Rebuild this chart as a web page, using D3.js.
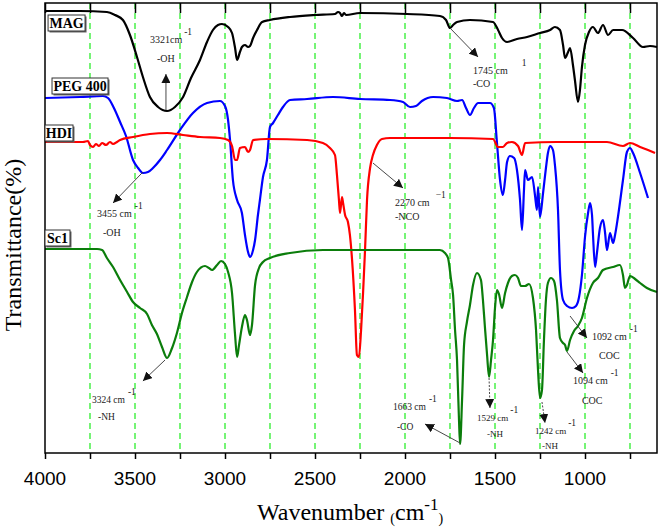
<!DOCTYPE html>
<html>
<head>
<meta charset="utf-8">
<script src="https://cdn.jsdelivr.net/npm/d3@7/dist/d3.min.js"></script>
<style>
  body { margin: 0; background: #fff; }
  svg { display: block; }
</style>
</head>
<body>
<div id="chart"></div>
<script>
// FTIR spectra, [wavenumber cm-1, transmittance (arbitrary offset units)]
const MAG = [[4000,442],[3806,442],[3656,441],[3611,438],[3567,433],[3528,418],[3489,396],[3456,376],[3417,356],[3372,346],[3322,342],[3278,346],[3233,356],[3189,375],[3139,393],[3100,411],[3067,423],[3039,428],[3017,429],[2983,426],[2961,420],[2944,405],[2933,393],[2917,401],[2906,406],[2889,408],[2872,406],[2861,407],[2844,415],[2822,423],[2794,431],[2750,433],[2639,436],[2500,438],[2389,439],[2372,441],[2361,440],[2350,437],[2339,440],[2328,438],[2250,440],[1989,439],[1806,437],[1772,433],[1750,425],[1733,428],[1711,431],[1639,433],[1511,431],[1483,423],[1461,415],[1433,411],[1378,414],[1322,416],[1250,420],[1194,423],[1167,426],[1139,423],[1122,408],[1111,395],[1094,401],[1083,405],[1067,388],[1056,373],[1039,351],[1028,363],[1017,386],[1000,408],[978,421],[956,426],[928,420],[900,428],[872,418],[844,423],[794,423],[733,415],[678,406],[639,407],[600,406]];

const PEG400 = [[4000,355],[3806,356],[3678,357],[3650,355],[3617,345],[3583,331],[3550,317],[3511,293],[3483,285],[3456,280],[3428,281],[3400,285],[3361,293],[3322,303],[3250,323],[3178,340],[3100,350],[3028,352],[3000,347],[2983,333],[2972,313],[2956,273],[2933,253],[2906,240],[2889,218],[2872,201],[2861,196],[2844,203],[2833,213],[2817,238],[2806,253],[2789,276],[2767,293],[2750,326],[2733,330],[2706,338],[2678,346],[2639,353],[2544,354],[2400,356],[2250,354],[2083,353],[2011,351],[1972,346],[1939,347],[1906,352],[1844,356],[1767,355],[1711,352],[1683,353],[1661,345],[1639,338],[1617,345],[1594,350],[1528,350],[1506,345],[1489,310],[1472,273],[1456,258],[1444,273],[1433,291],[1417,297],[1394,295],[1378,283],[1361,253],[1350,223],[1339,263],[1333,283],[1317,273],[1294,276],[1278,258],[1267,243],[1261,266],[1250,236],[1233,260],[1217,285],[1206,300],[1194,307],[1178,303],[1167,288],[1150,243],[1139,183],[1122,153],[1100,147],[1072,145],[1050,147],[1033,156],[1017,178],[1000,216],[983,240],[972,250],[961,238],[956,220],[944,186],[933,201],[917,225],[900,233],[889,221],[878,203],[861,220],[844,210],[833,218],[817,236],[789,273],[767,301],[750,305],[733,300],[694,280],[650,255]];

const HDI = [[4000,311],[3789,311],[3761,312],[3750,308],[3733,306],[3717,309],[3700,307],[3683,310],[3661,308],[3639,311],[3622,309],[3600,311],[3583,313],[3511,316],[3417,319],[3322,320],[3233,318],[3139,316],[3028,315],[2983,313],[2961,307],[2944,293],[2933,293],[2917,305],[2889,306],[2872,301],[2861,303],[2844,313],[2767,314],[2544,313],[2456,310],[2417,305],[2389,298],[2378,278],[2367,253],[2361,240],[2350,256],[2344,250],[2333,238],[2317,231],[2306,218],[2294,193],[2278,143],[2267,98],[2256,96],[2244,123],[2233,160],[2222,203],[2211,253],[2194,285],[2178,298],[2156,308],[2128,314],[2083,315],[1750,315],[1511,314],[1483,306],[1456,306],[1433,310],[1406,311],[1372,307],[1350,298],[1333,310],[1156,311],[878,311],[789,307],[750,310],[694,306],[650,303],[611,300]];

const SC1 = [[4000,204],[3711,204],[3683,203],[3656,195],[3622,186],[3583,173],[3544,161],[3511,151],[3472,145],[3433,139],[3406,128],[3378,119],[3350,106],[3322,95],[3294,105],[3267,120],[3239,140],[3211,156],[3183,171],[3156,181],[3111,187],[3089,185],[3072,183],[3044,188],[3022,192],[3000,189],[2983,181],[2961,160],[2944,118],[2933,96],[2922,108],[2906,126],[2889,138],[2878,133],[2861,118],[2850,128],[2833,168],[2811,185],[2789,191],[2750,195],[2639,200],[2456,203],[2178,203],[1806,203],[1778,200],[1761,195],[1744,173],[1733,158],[1722,123],[1711,93],[1700,33],[1694,9],[1683,53],[1672,108],[1656,131],[1639,148],[1622,168],[1600,180],[1578,173],[1567,153],[1556,126],[1544,98],[1533,76],[1522,93],[1511,113],[1500,145],[1489,163],[1478,159],[1461,145],[1444,160],[1428,170],[1406,177],[1389,178],[1372,175],[1356,167],[1333,167],[1311,169],[1289,155],[1272,123],[1261,83],[1250,55],[1239,63],[1228,113],[1217,153],[1206,170],[1189,175],[1172,172],[1156,153],[1139,115],[1122,110],[1111,108],[1100,102],[1083,113],[1061,122],[1039,127],[1017,135],[989,155],[956,170],[928,175],[900,183],[844,186],[806,188],[789,178],[778,165],[767,168],[750,177],[722,174],[694,170],[656,165],[600,161]];

const seriesNames = ['MAG', 'PEG 400', 'HDI', 'Sc1'];
const seriesData = [MAG, PEG400, HDI, SC1];
const seriesColors = ['#000000', '#0000ff', '#ff0000', '#0b7d0b'];

const xTicks = [4000, 3500, 3000, 2500, 2000, 1500, 1000];
const gridLines = [3750, 3500, 3250, 3000, 2750, 2500, 2250, 2000, 1750, 1500, 1250, 1000, 750];

// peak annotations: number, group, peak point, arrow tip, text anchor (all in data units)
const peakNums = ['3321', '1745', '3455', '2270', '3324', '1663', '1529', '1242', '1094', '1092'];
const peakGroups = ['-OH', '-CO', '-OH', '-NCO', '-NH', '-CO', '-NH', '-NH', 'COC', 'COC'];
const peakFrom = [[3328,343],[1750,425],[3456,281],[2178,290],[3333,93],[1694,10],[1533,75],[1239,51],[1100,101],[1083,137]];
const peakTo = [[3328,379],[1594,396],[3622,250],[2011,265],[3456,72],[1889,29],[1528,45],[1222,30],[1011,80],[989,115]];
const peakText = [[3417,410],[1622,379],[3711,236],[2056,247],[3739,50],[2067,43],[1600,32],[1278,19],[1067,69],[961,113]];

const W = 661, H = 527;
const margin = { top: 3, right: 4, bottom: 74, left: 45 };
const innerW = W - margin.left - margin.right;
const innerH = H - margin.top - margin.bottom;

const svg = d3.select('#chart').append('svg')
    .attr('width', W)
    .attr('height', H);

const chart = svg.append('g')
    .attr('transform', `translate(${margin.left}, ${margin.top})`);

const x = d3.scaleLinear().domain([4000, 600]).range([0, innerW]);
const y = d3.scaleLinear().domain([0, 450]).range([innerH, 0]);

// green dashed reference lines
chart.append('g').selectAll('line')
    .data(gridLines)
    .join('line')
    .attr('x1', d => x(d)).attr('x2', d => x(d))
    .attr('y1', 0).attr('y2', innerH)
    .attr('stroke', '#3cf03c')
    .attr('stroke-width', 1.4)
    .attr('stroke-dasharray', '6,4');

// spectra
const line = d3.line()
    .curve(d3.curveMonotoneX)
    .x(d => x(d[0]))
    .y(d => y(d[1]));

chart.append('g').selectAll('path')
    .data(seriesData)
    .join('path')
    .attr('fill', 'none')
    .attr('stroke', (d, i) => seriesColors[i])
    .attr('stroke-width', 2.2)
    .attr('stroke-linejoin', 'round')
    .attr('d', line);

// axes
const minorTicks = d3.range(4000, 599, -250);
chart.append('g')
    .attr('transform', `translate(0, ${innerH})`)
    .call(d3.axisBottom(x).tickValues(minorTicks).tickSize(6).tickFormat(''))
    .call(g => g.select('.domain').remove())
    .call(g => g.selectAll('line').attr('stroke-width', 1.5));

chart.append('g')
    .call(d3.axisTop(x).tickValues(minorTicks).tickSize(-10).tickFormat(''))
    .call(g => g.select('.domain').remove())
    .call(g => g.selectAll('line').attr('stroke-width', 1.5));

chart.append('g').selectAll('text')
    .data(xTicks)
    .join('text')
    .attr('x', d => x(d))
    .attr('y', innerH + 32)
    .attr('text-anchor', 'middle')
    .attr('font-family', '"Liberation Sans", Arial, sans-serif')
    .attr('font-size', 19)
    .text(d => d);

chart.append('rect')
    .attr('width', innerW).attr('height', innerH)
    .attr('fill', 'none')
    .attr('stroke', '#000')
    .attr('stroke-width', 1.5);

// series labels in boxes
const boxPos = [[3983,438,37],[3961,375,56],[4000,328,28],[4000,223,25]];
const boxes = chart.append('g').selectAll('g')
    .data(seriesNames)
    .join('g')
    .attr('transform', (d, i) => `translate(${x(boxPos[i][0])}, ${y(boxPos[i][1])})`);
boxes.append('rect')
    .attr('x', 1.5).attr('y', 1.5)
    .attr('width', (d, i) => boxPos[i][2]).attr('height', 16)
    .attr('fill', '#666');
boxes.append('rect')
    .attr('width', (d, i) => boxPos[i][2]).attr('height', 16)
    .attr('fill', '#fff')
    .attr('stroke', '#333')
    .attr('stroke-width', 1);
boxes.append('text')
    .attr('x', (d, i) => boxPos[i][2] / 2)
    .attr('y', 13)
    .attr('text-anchor', 'middle')
    .attr('font-family', '"Liberation Serif", "Times New Roman", serif')
    .attr('font-weight', 'bold')
    .attr('font-size', 14)
    .text(d => d);

// annotations
const defs = svg.append('defs');
defs.append('marker')
    .attr('id', 'arrow')
    .attr('viewBox', '0 0 10 10')
    .attr('refX', 10).attr('refY', 5)
    .attr('markerWidth', 9).attr('markerHeight', 9)
    .attr('markerUnits', 'userSpaceOnUse')
    .attr('orient', 'auto')
    .append('path')
    .attr('d', 'M0,0 L10,5 L0,10 Z')
    .attr('fill', '#111');

const supDx = [2, 14, 3, 6, 3, 3, 2, 2, 3, 3];
const groupDx = [7, 0, 6, 0, 6, 4, 10, 7, 9, 7];
const groupDy = [19, 13, 19, 14, 17, 20, 16, 15, 20, 19];
const numSize = [10, 10, 10, 10, 9.5, 9.5, 9, 9, 10, 10];

const ann = chart.append('g')
    .attr('font-family', '"Liberation Serif", "Times New Roman", serif')
    .attr('fill', '#222');

peakNums.forEach((n, i) => {
    ann.append('line')
        .attr('x1', x(peakFrom[i][0])).attr('y1', y(peakFrom[i][1]))
        .attr('x2', x(peakTo[i][0])).attr('y2', y(peakTo[i][1]))
        .attr('stroke', '#333')
        .attr('stroke-width', 0.9)
        .attr('stroke-dasharray', (i === 6 || i === 7) ? '2,1.5' : null)
        .attr('marker-end', 'url(#arrow)');

    const tx = x(peakText[i][0]), ty = y(peakText[i][1]);
    const t = ann.append('text')
        .attr('x', tx).attr('y', ty)
        .attr('font-size', numSize[i])
        .text(n + (i === 0 ? 'cm' : ' cm'));
    const w = t.node().getComputedTextLength();
    ann.append('text')
        .attr('x', tx + w + supDx[i]).attr('y', ty - 8)
        .attr('font-size', 9.5)
        .text(i === 1 ? '1' : (i === 3 ? '\u22121' : '-1'));
    ann.append('text')
        .attr('x', tx + groupDx[i]).attr('y', ty + groupDy[i])
        .attr('font-size', numSize[i])
        .text(peakGroups[i]);
});

// axis titles
svg.append('text')
    .attr('transform', `translate(21, 245) rotate(-90)`)
    .attr('text-anchor', 'middle')
    .attr('font-family', '"Liberation Serif", "Times New Roman", serif')
    .attr('font-size', 24)
    .text('Transmittance(%)');

const xt = svg.append('text')
    .attr('x', 257).attr('y', 520)
    .attr('font-family', '"Liberation Serif", "Times New Roman", serif')
    .attr('font-size', 24);
xt.append('tspan').text('Wavenumber ');
xt.append('tspan').attr('font-size', 14).attr('dy', 3).text('(');
xt.append('tspan').attr('dy', -3).text('cm');
xt.append('tspan').attr('font-size', 17).attr('dy', -10).text('-1');
xt.append('tspan').attr('font-size', 14).attr('dy', 13).text(')');
</script>
</body>
</html>
